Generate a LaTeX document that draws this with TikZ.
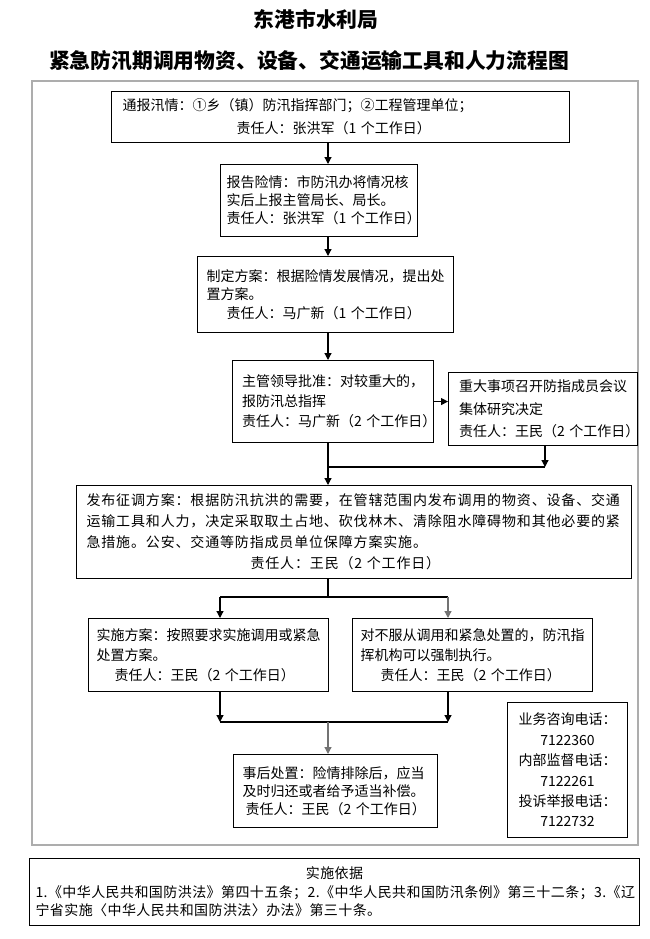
\documentclass[tikz,border=0pt]{standalone}
\usepackage{fontspec}
\newfontfamily\cjk{Noto Sans CJK SC}
\newfontfamily\cjkls[LetterSpace=6]{Noto Sans CJK SC}
\newfontfamily\cjklt[LetterSpace=3]{Noto Sans CJK SC}
\usetikzlibrary{arrows.meta}
\begin{document}
\begin{tikzpicture}[x=1pt,y=-1pt,
  box/.style={draw, line width=1.1pt, anchor=north west, inner ysep=0pt, align=left},
  fs/.style={font=\cjk\fontsize{14}{#1}\selectfont},
  ttl/.style={font=\cjk\bfseries\fontsize{20.8}{21}\selectfont, inner sep=0pt},
  ln/.style={line width=1.2pt},
  arr/.style={line width=1.2pt, -{Triangle[width=7pt,length=7pt]}},
  frame/.style={draw=black!32, line width=1.1pt}]
\useasboundingbox (0,0) rectangle (650,939);
\draw[frame] (32,81) rectangle (638,845);
\node[ttl] (t1) at (316,19) {东港市水利局};
\node[ttl] (t2) at (309,61) {紧急防汛期调用物资、设备、交通运输工具和人力流程图};
\node[box, fs=23, inner xsep=11pt, minimum width=458pt, minimum height=51pt, text width=436pt] (b1) at (111,91)
  {通报汛情：①乡（镇）防汛指挥部门；②工程管理单位；\\\hspace*{114pt}责任人：张洪军（1~个工作日）};
\node[box, fs=18, inner xsep=6pt, minimum width=197pt, minimum height=72pt, text width=185pt] (b2) at (220,164)
  {报告险情：市防汛办将情况核\\实后上报主管局长、局长。\\责任人：张洪军（1~个工作日）};
\node[box, fs=18.5, inner xsep=9pt, minimum width=256pt, minimum height=76pt, text width=238pt] (b3) at (197,256)
  {制定方案：根据险情发展情况，提出处\\置方案。\\\hspace*{20pt}责任人：马广新（1~个工作日）};
\node[box, fs=20, inner xsep=9.5pt, minimum width=201pt, minimum height=82pt, text width=182pt] (b4) at (232,360)
  {主管领导批准：对较重大的，\\报防汛总指挥\\责任人：马广新（2~个工作日）};
\node[box, fs=22.5, inner xsep=10.5pt, minimum width=189pt, minimum height=73pt, text width=168pt] (b5) at (448,372)
  {重大事项召开防指成员会议\\集体研究决定\\责任人：王民（2~个工作日）};
\node[box, font=\cjkls\fontsize{14}{21}\selectfont, inner xsep=10pt, minimum width=555pt, minimum height=93pt, text width=535pt] (b6) at (76,485)
  {发布征调方案：根据防汛抗洪的需要，在管辖范围内发布调用的物资、设备、交通\\运输工具和人力，决定采取取土占地、砍伐林木、清除阻水障碍物和其他必要的紧\\急措施。公安、交通等防指成员单位保障方案实施。\\\hspace*{164pt}责任人：王民（2~个工作日）};
\node[box, fs=20, inner xsep=8pt, minimum width=240pt, minimum height=73pt, text width=224pt] (b7) at (88,618)
  {实施方案：按照要求实施调用或紧急\\处置方案。\\\hspace*{18pt}责任人：王民（2~个工作日）};
\node[box, fs=20, inner xsep=8pt, minimum width=240pt, minimum height=73pt, text width=224pt] (b8) at (352,618)
  {对不服从调用和紧急处置的，防汛指\\挥机构可以强制执行。\\\hspace*{20pt}责任人：王民（2~个工作日）};
\node[box, fs=18, inner xsep=9pt, minimum width=204pt, minimum height=73pt, text width=186pt] (b9) at (233,754)
  {事后处置：险情排除后，应当\\及时归还或者给予适当补偿。\\\hspace*{3pt}责任人：王民（2~个工作日）};
\node[box, fs=20.4, align=center, inner xsep=5pt, minimum width=120pt, minimum height=135pt, text width=110pt] (ph) at (507,702)
  {业务咨询电话：\\7122360\\内部监督电话：\\7122261\\投诉举报电话：\\7122732};
\node[box, font=\cjklt\fontsize{14}{18.5}\selectfont, inner xsep=6pt, minimum width=610pt, minimum height=67pt, text width=598pt] (bb) at (29,858)
  {\makebox[598pt]{实施依据}\\1.《中华人民共和国防洪法》第四十五条；2.《中华人民共和国防汛条例》第三十二条；3.《辽\\宁省实施〈中华人民共和国防洪法〉办法》第三十条。};
\coordinate (sp) at (328,0);
\draw[arr] (b1.south -| sp) -- (b2.north -| sp);
\draw[arr] (b2.south -| sp) -- (b3.north -| sp);
\draw[arr] (b3.south -| sp) -- (b4.north -| sp);
\draw[arr] (b4.east) -- (b4.east -| b5.west);
\coordinate (m1) at (328,467);
\coordinate (m2) at (545,467);
\draw[ln] (b4.south -| sp) -- (m1) -- (m2);
\draw[arr] (b5.south -| m2) -- (m2);
\draw[arr] (m1) -- (b6.north -| sp);
\coordinate (s0) at (328,597);
\coordinate (s1) at (220,597);
\coordinate (s2) at (448,597);
\draw[ln] (b6.south -| sp) -- (s0);
\draw[ln] (s1) -- (s2);
\draw[arr] (s1) -- (b7.north -| s1);
\draw[arr, black!55] (s2) -- (b8.north -| s2);
\coordinate (j0) at (328,722);
\coordinate (j1) at (220,722);
\coordinate (j2) at (448,722);
\draw[arr] (b7.south -| j1) -- (j1);
\draw[arr] (b8.south -| j2) -- (j2);
\draw[ln] (j1) -- (j2);
\draw[arr, black!55] (j0) -- (b9.north -| j0);
\end{tikzpicture}
\end{document}
